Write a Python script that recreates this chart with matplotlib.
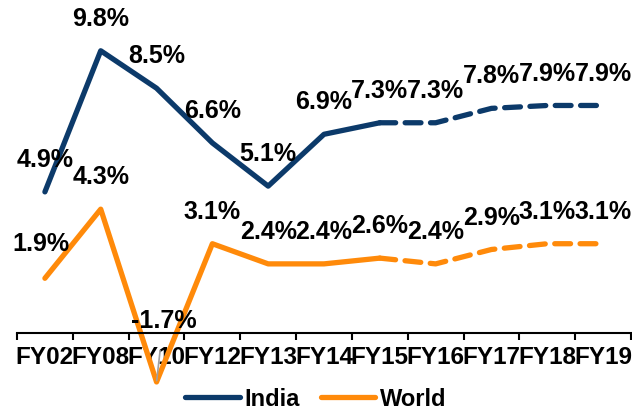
import matplotlib.pyplot as plt

plt.rcParams['font.family'] = ['Liberation Sans', 'DejaVu Sans']
plt.rcParams['font.weight'] = 'bold'

years = ['FY02', 'FY08', 'FY10', 'FY12', 'FY13', 'FY14', 'FY15', 'FY16', 'FY17', 'FY18', 'FY19']
india = [4.9, 9.8, 8.5, 6.6, 5.1, 6.9, 7.3, 7.3, 7.8, 7.9, 7.9]
world = [1.9, 4.3, -1.7, 3.1, 2.4, 2.4, 2.6, 2.4, 2.9, 3.1, 3.1]
split = 6  # FY15: actuals end, projections start

india_col = '#0c3a6a'
world_col = '#ff8a0a'

W, H = 632, 412
fig = plt.figure(figsize=(W / 100, H / 100), dpi=100)
# zero at y=333px, 28.8 px per unit
y0, unit = 333, 28.8
ymin, ymax = -2, 11
bot = (H - (y0 - ymin * unit)) / H
top = (H - (y0 - ymax * unit)) / H
ax = fig.add_axes([17 / W, bot, (631 - 17) / W, top - bot])

x = list(range(len(years)))
for vals, col, name in [(india, india_col, 'India'), (world, world_col, 'World')]:
    ax.plot(x[:split + 1], vals[:split + 1], color=col, lw=3.8, label=name,
            solid_capstyle='round', solid_joinstyle='round')
    ax.plot(x[split:], vals[split:], color=col, lw=3.8, dashes=(3.0, 1.8),
            dash_capstyle='round')

fs = 18
for i, v in enumerate(india):
    ax.annotate(f'{v:.1f}%', (i, v), xytext=(0, 23), textcoords='offset points',
                ha='center', va='center', fontsize=fs, fontweight='bold')

for i, v in enumerate(world):
    if v < 0:
        ax.annotate(f'{v:.1f}%', (i, v), xytext=(5, 44), textcoords='offset points',
                    ha='center', va='center', fontsize=fs, fontweight='bold',
                    arrowprops=dict(arrowstyle='-', color='#a0a0a0', lw=1.2,
                                    shrinkA=11, shrinkB=1))
    else:
        off = 25 if i == 0 else 23
        ax.annotate(f'{v:.1f}%', (i, v), xytext=(-3 if i == 0 else 0, off),
                    textcoords='offset points', ha='center', va='center',
                    fontsize=fs, fontweight='bold')

ax.set_xlim(-0.5, len(years) - 0.5)
ax.set_ylim(ymin, ymax)
for s in ['top', 'right', 'left']:
    ax.spines[s].set_visible(False)
ax.spines['bottom'].set_position(('data', 0))
ax.spines['bottom'].set_linewidth(1.5)
ax.set_yticks([])
ax.set_xticks(x)
ax.set_xticklabels(years, fontsize=17.5, fontweight='bold')
ax.set_xticks([i - 0.5 for i in range(len(years) + 1)], minor=True)
ax.tick_params(axis='x', which='major', length=0, pad=9)
ax.tick_params(axis='x', which='minor', length=5, width=1.5, direction='out')

fig.legend(loc='center', bbox_to_anchor=(0.5, (H - 399) / H), ncol=2, frameon=False,
           fontsize=17, handlelength=2.3, handletextpad=0.2, columnspacing=0.9,
           borderaxespad=0, borderpad=0)

fig.savefig('out.png', dpi=100)
